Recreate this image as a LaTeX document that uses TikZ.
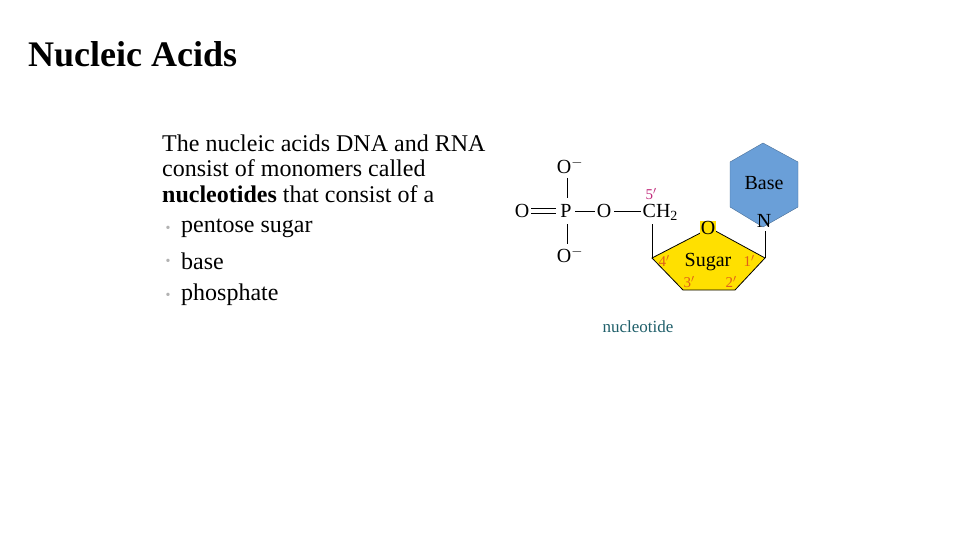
\documentclass[tikz,border=0pt]{standalone}
\usepackage{fontspec}
\setmainfont{Liberation Serif}
\definecolor{sug}{HTML}{FFE000}
\definecolor{bas}{HTML}{6A9FD8}
\definecolor{num}{HTML}{E0601A}
\definecolor{five}{HTML}{C0287A}
\definecolor{cap}{HTML}{1F5F6A}
\begin{document}
\begin{tikzpicture}[x=1pt,y=-1pt,
  body/.style={font=\fontsize{24}{28}\selectfont,anchor=west,inner sep=0},
  chem/.style={font=\fontsize{20}{22}\selectfont,inner sep=0.5},
  lbl/.style={font=\fontsize{15}{16}\selectfont,inner sep=0},
  bul/.style={inner sep=0,text=gray!60,font=\fontsize{14}{14}\selectfont},
  bond/.style={line width=0.8}]
\useasboundingbox (0,0) rectangle (960,540);
\node[anchor=west,inner sep=0,font=\fontsize{36}{40}\selectfont\bfseries] (title) at (28,54) {Nucleic Acids};
\node[body] (t1) at (162,143) {The nucleic acids DNA and RNA};
\node[body] (t2) at (162,168) {consist of monomers called};
\node[body] (t3) at (162,194) {\textbf{nucleotides} that consist of a};
\node[bul] (u1) at (168,229) {•};
\node[bul] (u2) at (168,262) {•};
\node[bul] (u3) at (168,296) {•};
\node[body] (b1) at (181,228) {pentose sugar};
\node[body] (b2) at (181,261) {base};
\node[body] (b3) at (181,295) {phosphate};
% base hexagon
\draw[fill=bas,draw=bas!70!black,line width=0.4] (763,143) -- (798,162) -- (798,207) -- (763,227) -- (730,207) -- (730,162) -- cycle;
\node[chem] (base) at (764,183) {Base};
% sugar pentagon
\draw[fill=sug,draw=black,line width=0.8] (710,228) -- (765,258) -- (735,290) -- (683,290) -- (652,258) -- cycle;
\node[chem,fill=sug,inner sep=0.5] (ro) at (708,228) {O};
\node[chem] (sugar) at (708,262) {Sugar};
\node[lbl,text=num] (c4) at (664,261) {4$'$};
\node[lbl,text=num] (c1) at (749,261) {1$'$};
\node[lbl,text=num] (c3) at (689,282) {3$'$};
\node[lbl,text=num] (c2) at (731,282) {2$'$};
\node[chem] (n) at (764,221) {N};
\coordinate (v1) at (765,258);
\coordinate (v4) at (652,258);
\draw[bond] (765,231) -- (v1);
% phosphate
\node[chem] (p) at (566,211) {P};
\node[chem] (od) at (522,211) {O};
\node[chem] (ot) at (570,166) {O$^{-}$};
\node[chem] (ob) at (570,255) {O$^{-}$};
\node[chem] (oe) at (604,211) {O};
\node[chem,anchor=west] (ch) at (642,212) {CH\textsubscript{2}};
\node[lbl,text=five] (c5) at (651,194) {5$'$};
\draw[bond] (531,208) -- (556,208);
\draw[bond] (531,213) -- (556,213);
\draw[bond] (575,211) -- (595,211);
\draw[bond] (614,211) -- (641,211);
\draw[bond] (567,178) -- (567,198);
\draw[bond] (567,224) -- (567,244);
\draw[bond] (652,224) -- (v4);
\node[font=\fontsize{17}{18}\selectfont,text=cap] (capt) at (638,327) {nucleotide};
\end{tikzpicture}
\end{document}
